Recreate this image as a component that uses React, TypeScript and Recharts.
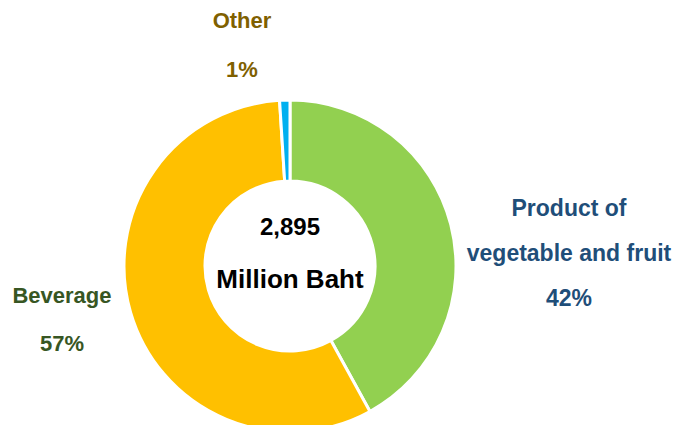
import { PieChart, Pie, Cell } from "recharts";

const categories = ["Product of vegetable and fruit", "Beverage", "Other"];
const labelLines = [["Product of", "vegetable and fruit"], ["Beverage"], ["Other"]];
const values = [1216, 1650, 29];
const sliceColors = ["#92D050", "#FFC000", "#00B0F0"];
const labelColors = ["#1F4E79", "#375623", "#7F6000"];
const totalText = "2,895";
const unitText = "Million Baht";

const data = categories.map((name, i) => ({ name, value: values[i] }));

// where each outside label sits, relative to the pie centre
const labelSpots = [
  { dx: 279, dy: -50, gap: 45, size: 23 },
  { dx: -228, dy: 37, gap: 48, size: 22 },
  { dx: -48, dy: -238, gap: 49, size: 22 },
];

const font = "'Liberation Sans', Arial, sans-serif";

function renderLabel(props: any) {
  const { cx, cy, index, percent } = props;
  const spot = labelSpots[index];
  const lines = [...labelLines[index], `${Math.round(percent * 100)}%`];
  return (
    <g>
      {lines.map((t, k) => (
        <text
          key={k}
          x={cx + spot.dx}
          y={cy + spot.dy + k * spot.gap}
          textAnchor="middle"
          fill={labelColors[index]}
          fontSize={spot.size}
          fontWeight="bold"
          fontFamily={font}
        >
          {t}
        </text>
      ))}
      {index === 0 && (
        <>
          <text x={cx} y={cy - 31} textAnchor="middle" fill="#000" fontSize={24} fontWeight="bold" fontFamily={font}>
            {totalText}
          </text>
          <text x={cx} y={cy + 22} textAnchor="middle" fill="#000" fontSize={26} fontWeight="bold" fontFamily={font}>
            {unitText}
          </text>
        </>
      )}
    </g>
  );
}

export default function App() {
  return (
    <div style={{ position: "fixed", left: 0, top: 0, width: 675, height: 425, background: "#fff" }}>
      <PieChart width={675} height={425} margin={{ top: 0, right: 0, bottom: 0, left: 0 }}>
        <Pie
          data={data}
          dataKey="value"
          nameKey="name"
          cx={290}
          cy={266}
          innerRadius={85}
          outerRadius={166}
          startAngle={90}
          endAngle={-270}
          stroke="#fff"
          strokeWidth={3}
          label={renderLabel}
          labelLine={false}
          isAnimationActive={false}
        >
          {data.map((d, i) => (
            <Cell key={d.name} fill={sliceColors[i]} />
          ))}
        </Pie>
      </PieChart>
    </div>
  );
}
